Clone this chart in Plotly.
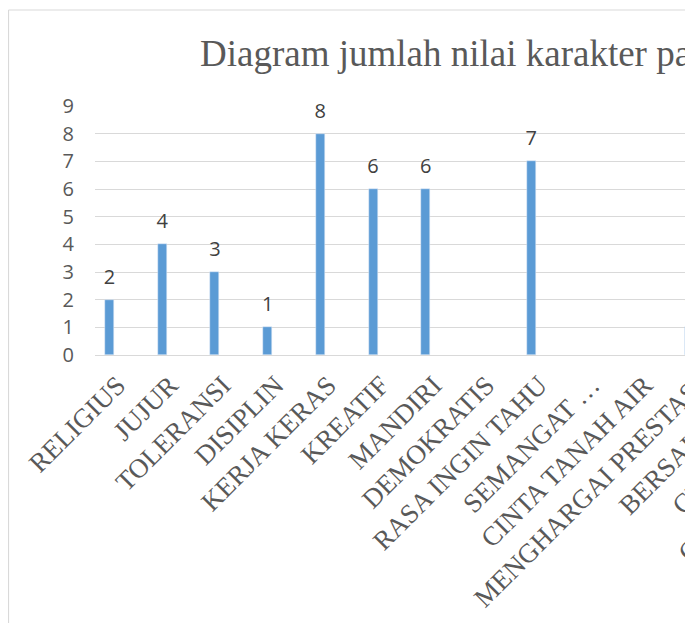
import plotly.graph_objects as go

# ---- data ----
categories = [
    "RELIGIUS", "JUJUR", "TOLERANSI", "DISIPLIN", "KERJA KERAS", "KREATIF",
    "MANDIRI", "DEMOKRATIS", "RASA INGIN TAHU", "SEMANGAT KEBANGSAAN",
    "CINTA TANAH AIR", "MENGHARGAI PRESTASI", "BERSAHABAT",
    "CINTA DAMAI", "GEMAR MEMBACA", "PEDULI LINGKUNGAN", "PEDULI SOSIAL",
    "TANGGUNG JAWAB",
]
tick_labels = [
    "RELIGIUS", "JUJUR", "TOLERANSI", "DISIPLIN", "KERJA KERAS", "KREATIF",
    "MANDIRI", "DEMOKRATIS", "RASA INGIN TAHU", "SEMANGAT …",
    "CINTA TANAH AIR", "MENGHARGAI PRESTASI", "BERSAHABAT",
    "CINTA DAMAI", "GEMAR MEMBACA", "PEDULI LINGKUNGAN", "PEDULI SOSIAL",
    "TANGGUNG JAWAB",
]
values = [2, 4, 3, 1, 8, 6, 6, None, 7, None, None, 1,
          None, None, None, None, None, None]
y_ticks = [0, 1, 2, 3, 4, 5, 6, 7, 8, 9]
title_text = "Diagram jumlah nilai karakter pada buku siswa"

BAR = "#5B9BD5"
GRID = "#D9D9D9"
TXT = "#595959"
XFONT = dict(family="Liberation Serif", size=27, color=TXT)
X_RANGE = [-0.275, 11.07]

fig = go.Figure()
fig.add_trace(go.Bar(
    x=categories, y=values, width=0.17, marker_color=BAR,
    hoverinfo="x+y",
))
fig.add_trace(go.Scatter(
    x=categories, y=values, mode="markers+text",
    text=["" if v is None else str(v) for v in values],
    textposition="top center",
    textfont=dict(family="Open Sans", size=20, color="#404040"),
    marker=dict(size=16, color="rgba(0,0,0,0)"),
    hoverinfo="skip", cliponaxis=False,
))

fig.update_xaxes(
    type="category", categoryorder="array", categoryarray=categories,
    tickmode="array", tickvals=categories, ticktext=tick_labels,
    range=X_RANGE, tickangle=-45, showgrid=False, showline=False,
    zeroline=False, ticks="", ticklabelstandoff=8, ticklabelshift=8,
    automargin=False, tickfont=XFONT,
)
fig.update_yaxes(
    range=[0, 9], tickmode="array", tickvals=y_ticks,
    showgrid=True, gridcolor=GRID, gridwidth=1,
    zeroline=True, zerolinecolor=GRID, zerolinewidth=1,
    showline=False, ticks="", ticklabelstandoff=20, automargin=False,
    tickfont=dict(family="Open Sans", size=20, color=TXT),
)

annotations = [dict(
    text=title_text, xref="paper", yref="paper",
    x=(198 - 95) / 598, y=(355 - 53) / 249,
    xanchor="left", yanchor="middle", showarrow=False,
    font=dict(family="Liberation Serif", size=37, color=TXT),
)]
# category labels whose ticks fall beyond the visible right edge
for i in (12, 13, 14):
    annotations.append(dict(
        text=tick_labels[i], xref="paper", yref="paper",
        x=(i - X_RANGE[0]) / (X_RANGE[1] - X_RANGE[0]), y=0,
        xanchor="right", yanchor="top", textangle=-45, showarrow=False,
        xshift=21, yshift=-16, font=XFONT,
    ))

fig.update_layout(
    width=685, height=615,
    margin=dict(l=87, r=0, t=98, b=268, autoexpand=False),
    plot_bgcolor="white", paper_bgcolor="white",
    showlegend=False, bargap=0,
    annotations=annotations,
    shapes=[
        dict(type="line", xref="paper", yref="paper",
             x0=(8.5 - 95) / 598, x1=1.2, y0=(355 - 10) / 249, y1=(355 - 10) / 249,
             line=dict(color=GRID, width=1.2)),
        dict(type="line", xref="paper", yref="paper",
             x0=(8.5 - 95) / 598, x1=(8.5 - 95) / 598, y0=(355 - 10) / 249, y1=-1.2,
             line=dict(color=GRID, width=1.2)),
    ],
)

fig.write_html("out.html")
